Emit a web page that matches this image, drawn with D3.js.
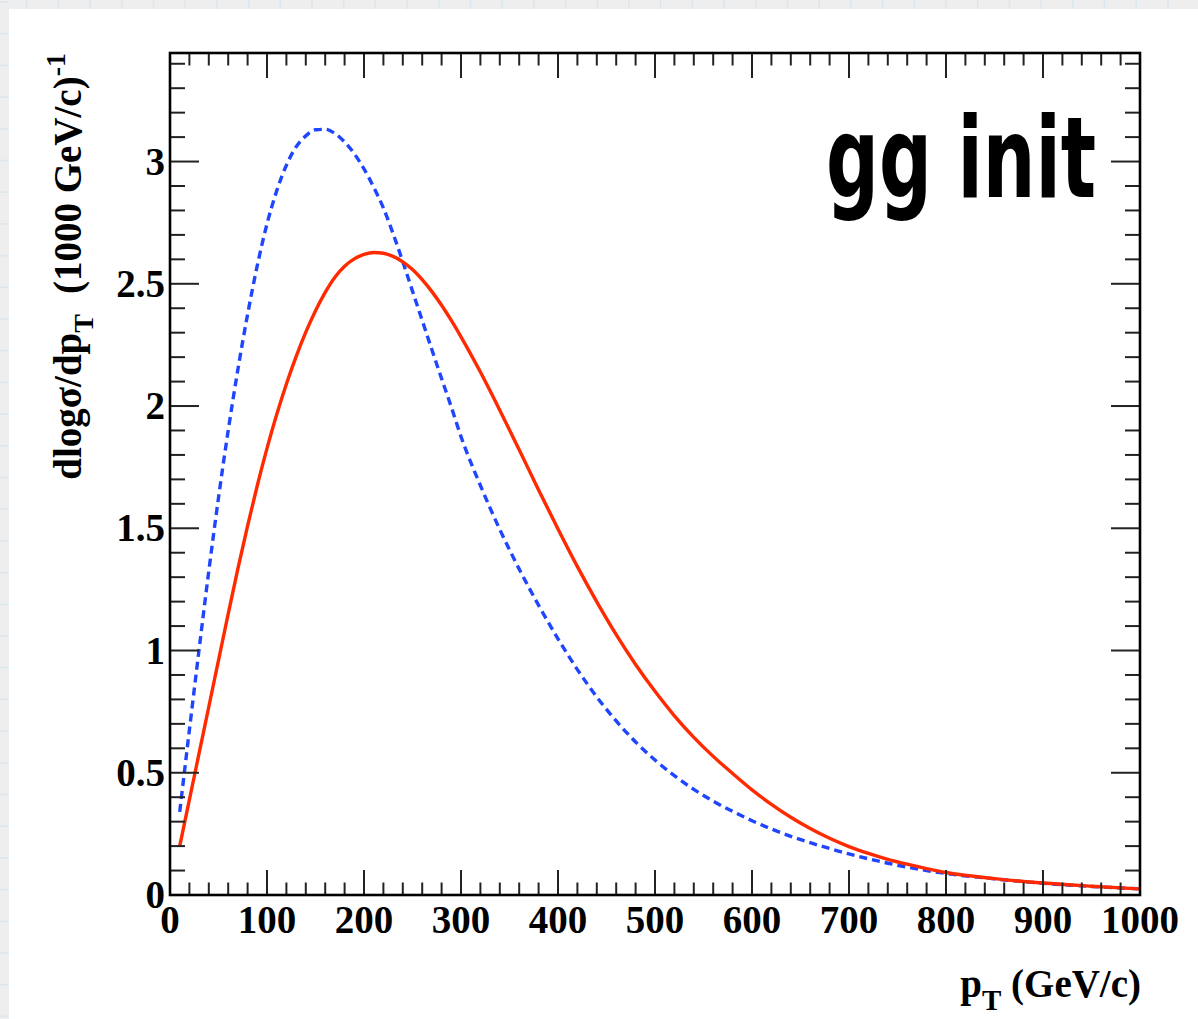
<!DOCTYPE html>
<html><head><meta charset="utf-8">
<script src="https://cdn.jsdelivr.net/npm/d3@7"></script>
<style>html,body{margin:0;padding:0;background:#eeeeee;} svg{display:block}</style>
</head><body>
<svg id="c" width="1198" height="1019"></svg>
<script>
// ---- data ----
const pT = [10,20,30,40,50,60,70,80,90,100,110,120,130,140,150,160,170,180,190,200,210,220,230,240,250,260,270,280,290,300,
  320,340,360,380,400,420,440,460,480,500,520,540,560,580,600,620,640,660,680,700,720,740,760,780,800,
  850,900,950,1000];
const redValues = [0.20,0.39,0.58,0.77,0.96,1.15,1.335,1.51,1.675,1.827,1.965,2.09,2.202,2.302,2.39,2.465,2.527,2.572,2.602,2.62,2.628,2.625,2.612,2.59,2.558,2.517,2.468,2.412,2.35,2.283,
  2.139,1.983,1.821,1.657,1.497,1.343,1.199,1.065,0.943,0.833,0.733,0.645,0.567,0.497,0.43,0.371,0.318,0.272,0.232,0.198,0.17,0.146,0.126,0.108,0.092,
  0.067,0.049,0.036,0.025];
const blueValues = [0.34,0.675,1.005,1.325,1.625,1.90,2.15,2.375,2.575,2.745,2.88,2.985,3.06,3.105,3.13,3.132,3.115,3.08,3.032,2.97,2.895,2.81,2.705,2.59,2.47,2.35,2.23,2.112,1.996,1.875,
  1.675,1.495,1.333,1.185,1.048,0.922,0.81,0.712,0.626,0.552,0.488,0.432,0.384,0.342,0.304,0.27,0.24,0.214,0.19,0.168,0.148,0.13,0.114,0.10,0.088,
  0.066,0.048,0.035,0.025];
const xMajorTicks = [0,100,200,300,400,500,600,700,800,900,1000];
const xTickLabels = ["0","100","200","300","400","500","600","700","800","900","1000"];
const yMajorTicks = [0,0.5,1,1.5,2,2.5,3];
const yTickLabels = ["0","0.5","1","1.5","2","2.5","3"];
const xMinorTicks = d3.range(0,1001,20);
const yMinorTicks = d3.range(0,3.45,0.1);
const labelText = "gg init";

// ---- layout ----
const L = 170, R = 1140, T = 53, B = 895;
const svg = d3.select("#c");
// background decoration
svg.append("rect").attr("width",1198).attr("height",1019).attr("fill","#eeeeee");
const g0 = svg.append("g").attr("stroke","#dbe6ee").attr("stroke-width",1.5);
d3.range(2, 1019, 31.7).forEach(v => g0.append("line").attr("x1",0).attr("x2",9).attr("y1",v).attr("y2",v));
d3.range(-5, 1198, 31.7).forEach(v => g0.append("line").attr("y1",0).attr("y2",9).attr("x1",v).attr("x2",v));
svg.append("rect").attr("x",9).attr("y",9).attr("width",1198).attr("height",1019).attr("fill","#ffffff");

const x = d3.scaleLinear().domain([0,1000]).range([L,R]);
const y = d3.scaleLinear().domain([0,3.444]).range([B,T]);

const font = "'Liberation Serif','Times New Roman',serif";

// curves
const line = d3.line().x(d=>x(d[0])).y(d=>y(d[1])).curve(d3.curveMonotoneX);
svg.append("path").datum(pT.map((p,i)=>[p,blueValues[i]]))
  .attr("d",line).attr("fill","none").attr("stroke","#1f45ff").attr("stroke-width",3.4)
  .attr("stroke-dasharray","8,5");
svg.append("path").datum(pT.map((p,i)=>[p,redValues[i]]))
  .attr("d",line).attr("fill","none").attr("stroke","#ff2a00").attr("stroke-width",3.4);

// ticks
const tk = svg.append("g").attr("stroke","#222").attr("stroke-width",2);
xMinorTicks.forEach(v=>{
  const major = v % 100 === 0;
  const len = major ? 25 : 12.5;
  tk.append("line").attr("x1",x(v)).attr("x2",x(v)).attr("y1",B).attr("y2",B-len);
  tk.append("line").attr("x1",x(v)).attr("x2",x(v)).attr("y1",T).attr("y2",T+len);
});
yMinorTicks.forEach(v=>{
  const major = Math.abs(v*2 - Math.round(v*2)) < 1e-6;
  const len = major ? 29 : 15;
  tk.append("line").attr("y1",y(v)).attr("y2",y(v)).attr("x1",L).attr("x2",L+len);
  tk.append("line").attr("y1",y(v)).attr("y2",y(v)).attr("x1",R).attr("x2",R-len);
});
// frame
svg.append("rect").attr("x",L).attr("y",T).attr("width",R-L).attr("height",B-T)
  .attr("fill","none").attr("stroke","#000").attr("stroke-width",2.6);

// tick labels
svg.append("g").selectAll("text").data(xMajorTicks).join("text")
  .attr("x",d=>x(d)).attr("y",933).attr("text-anchor","middle")
  .attr("font-family",font).attr("font-weight","bold").attr("font-size",39)
  .text((d,i)=>xTickLabels[i]);
svg.append("g").selectAll("text").data(yMajorTicks).join("text")
  .attr("x",165).attr("y",d=>y(d)+13).attr("text-anchor","end")
  .attr("font-family",font).attr("font-weight","bold").attr("font-size",39)
  .text((d,i)=>yTickLabels[i]);

// x title
const xt = svg.append("text").attr("x",1141).attr("y",997).attr("text-anchor","end")
  .attr("font-family",font).attr("font-weight","bold").attr("font-size",39);
xt.append("tspan").text("p");
xt.append("tspan").attr("dy",13).attr("font-size",29).text("T");
xt.append("tspan").attr("dy",-13).text(" (GeV/c)");

// y title
const yt = svg.append("text").attr("transform","translate(81,53) rotate(-90)").attr("text-anchor","end")
  .attr("font-family",font).attr("font-weight","bold").attr("font-size",39);
yt.append("tspan").text("dlogσ/dp");
yt.append("tspan").attr("dy",12).attr("font-size",28).text("T");
yt.append("tspan").attr("dy",-12).attr("dx",20).text("(1000 GeV/c)");
yt.append("tspan").attr("dy",-16).attr("font-size",28).text("-1");

// label
svg.append("text").attr("transform","translate(826,197) scale(0.66,1)")
  .attr("font-family","'DejaVu Sans',sans-serif").attr("font-weight","bold").attr("font-size",112)
  .text(labelText);
</script>
</body></html>
